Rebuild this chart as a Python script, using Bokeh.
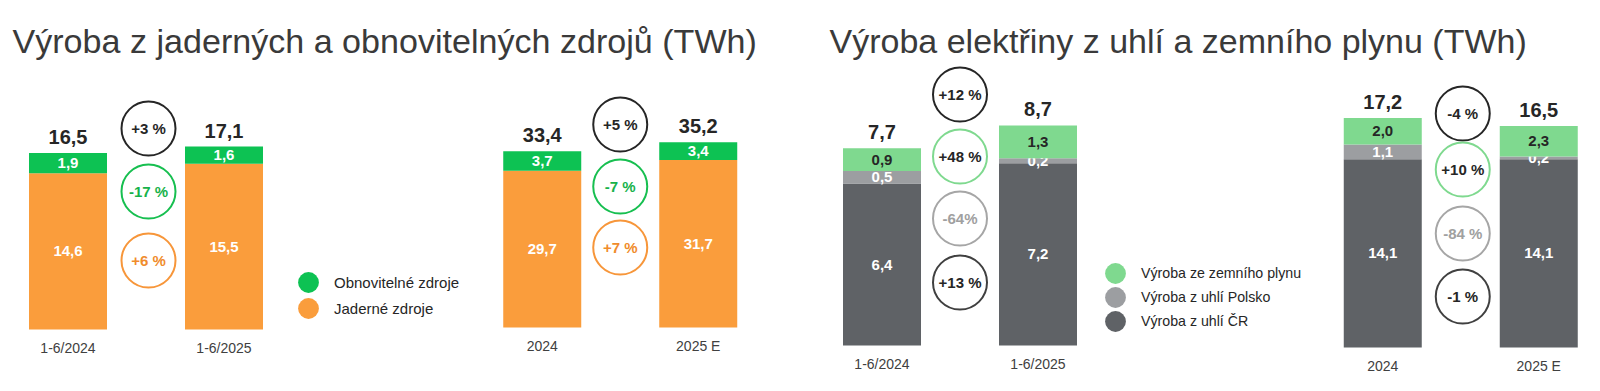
import numpy as np
from bokeh.plotting import figure
from bokeh.layouts import row
from bokeh.models import Range1d, Label, Legend, LegendItem
from bokeh.core.properties import value
from bokeh.embed import file_html
from bokeh.resources import INLINE

FONT = "Liberation Sans"

# ---------------- data ----------------
title_left = "Výroba z jaderných a obnovitelných zdrojů (TWh)"
title_right = "Výroba elektřiny z uhlí a zemního plynu (TWh)"

periods_half = ["1-6/2024", "1-6/2025"]
periods_year = ["2024", "2025 E"]

nuclear_half = [14.6, 15.5]
renew_half = [1.9, 1.6]
total_nr_half = [16.5, 17.1]
change_nr_half = ["+3 %", "-17 %", "+6 %"]

nuclear_year = [29.7, 31.7]
renew_year = [3.7, 3.4]
total_nr_year = [33.4, 35.2]
change_nr_year = ["+5 %", "-7 %", "+7 %"]

coal_cz_half = [6.4, 7.2]
coal_pl_half = [0.5, 0.2]
gas_half = [0.9, 1.3]
total_fossil_half = [7.7, 8.7]
change_fossil_half = ["+12 %", "+48 %", "-64%", "+13 %"]

coal_cz_year = [14.1, 14.1]
coal_pl_year = [1.1, 0.2]
gas_year = [2.0, 2.3]
total_fossil_year = [17.2, 16.5]
change_fossil_year = ["-4 %", "+10 %", "-84 %", "-1 %"]

legend_left = ["Obnovitelné zdroje", "Jaderné zdroje"]
legend_right = ["Výroba ze zemního plynu", "Výroba z uhlí Polsko", "Výroba z uhlí ČR"]

# ---------------- styles ----------------
ORANGE = "#FA9D3C"
GREEN = "#0DC253"
LGREEN = "#7FD98F"
LGRAY = "#9C9EA1"
DGRAY = "#5F6266"
DARK = "#262626"

H = 383
FRAME_H = H
PX_PER_SLOT = 156.0


def fmt(v):
    return f"{v:.1f}".replace(".", ",")


def panel(p, x0, periods, segments, colors, label_colors, totals, changes,
          ring_line, ring_text, ring_px, y_name, px_per_unit, ring_dx=0.0):
    xs = x0 + np.arange(len(periods), dtype=float)
    bottoms = np.zeros(len(periods))
    for vals, col, lc in zip(segments, colors, label_colors):
        vals = np.asarray(vals, dtype=float)
        tops = bottoms + vals
        p.vbar(x=xs, bottom=bottoms, top=tops, width=0.5, fill_color=col,
               line_color=None, y_range_name=y_name)
        p.text(x=xs, y=(bottoms + tops) / 2, text=[fmt(v) for v in vals],
               text_align="center", text_baseline="middle", text_color=lc,
               text_font=value(FONT), text_font_style="bold",
               text_font_size="15px", y_range_name=y_name)
        bottoms = tops
    # totals above bars
    p.text(x=xs, y=bottoms, text=[fmt(t) for t in totals], y_offset=-16,
           text_align="center", text_baseline="middle", text_color=DARK,
           text_font=value(FONT), text_font_style="bold", text_font_size="20px",
           y_range_name=y_name)
    # category labels below bars
    p.text(x=xs, y=np.zeros(len(periods)), text=periods, y_offset=18,
           text_align="center", text_baseline="middle", text_color="#404040",
           text_font=value(FONT), text_font_size="14px", y_range_name=y_name)
    # change rings
    xm = np.full(len(changes), xs.mean() + ring_dx / PX_PER_SLOT)
    ys = np.asarray(ring_px, dtype=float) / px_per_unit
    p.scatter(x=xm, y=ys, marker="circle", size=54, fill_color="white",
              line_color=ring_line, line_width=2, y_range_name=y_name)
    p.text(x=xm, y=ys, text=changes, text_align="center", text_baseline="middle",
           text_color=ring_text, text_font=value(FONT), text_font_style="bold",
           text_font_size="15px", y_range_name=y_name)


def make_fig(width, x_start, y1, y2):
    p = figure(width=width, height=H, title=None, toolbar_location=None,
               output_backend="svg",
               x_range=Range1d(x_start, x_start + width / PX_PER_SLOT),
               y_range=Range1d(*y1), x_axis_location=None, y_axis_location=None,
               min_border_left=0, min_border_right=0, min_border_top=0,
               min_border_bottom=0)
    p.extra_y_ranges = {"second": Range1d(*y2)}
    p.outline_line_color = None
    p.grid.visible = False
    p.background_fill_color = "white"
    p.border_fill_color = "white"
    return p


def yr(zero_above_bottom_px, px_per_unit):
    start = -zero_above_bottom_px / px_per_unit
    return (start, start + FRAME_H / px_per_unit)


def add_legend(p, labels, colors, x, y_bottoms, font_size):
    for lab, col, yb in zip(labels, colors, y_bottoms):
        r = p.scatter(x=np.array([np.nan]), y=np.array([np.nan]), marker="circle",
                      size=20, fill_color=col, line_color=None)
        lg = Legend(items=[LegendItem(label=lab, renderers=[r])], location=(x, yb),
                    orientation="vertical", glyph_width=52, glyph_height=52,
                    padding=0, margin=0, label_standoff=-3, border_line_color=None,
                    background_fill_alpha=0, label_text_font=FONT,
                    label_text_font_size=font_size, label_text_color=DARK)
        p.add_layout(lg)


# ---------------- left figure ----------------
S1, S2 = 10.7, 5.28
pl = make_fig(800, -67.5 / PX_PER_SLOT, yr(54, S1), yr(56, S2))
panel(pl, 0.0, periods_half, [nuclear_half, renew_half], [ORANGE, GREEN],
      ["white", "white"], total_nr_half, change_nr_half,
      [DARK, "#17BF50", "#F7963A"], [DARK, "#17B24B", "#F08C2C"],
      [201, 138, 69], "default", S1, ring_dx=2.5)
panel(pl, 3.04, periods_year, [nuclear_year, renew_year], [ORANGE, GREEN],
      ["white", "white"], total_nr_year, change_nr_year,
      [DARK, "#17BF50", "#F7963A"], [DARK, "#17B24B", "#F08C2C"],
      [203, 141, 80], "second", S2)
add_legend(pl, legend_left, [GREEN, ORANGE], 282, [38 + 37, 12 + 37], "15px")
pl.add_layout(Label(x=12, y=FRAME_H - 40, x_units="screen", y_units="screen",
                    text=title_left, text_font=FONT, text_font_size="34.1px",
                    text_color="#3a3a3a", text_baseline="alphabetic"))

# ---------------- right figure ----------------
S3, S4 = 25.3, 13.35
pr = make_fig(792, -81.5 / PX_PER_SLOT, yr(38, S3), yr(36, S4))
panel(pr, 0.0, periods_half, [coal_cz_half, coal_pl_half, gas_half],
      [DGRAY, LGRAY, LGREEN], ["white", "white", DARK], total_fossil_half,
      change_fossil_half, [DARK, LGREEN, "#A6A6A6", "#404040"],
      [DARK, DARK, "#A0A0A0", DARK], [251, 189, 127, 63], "default", S3)
panel(pr, 3.21, periods_year, [coal_cz_year, coal_pl_year, gas_year],
      [DGRAY, LGRAY, LGREEN], ["white", "white", DARK], total_fossil_year,
      change_fossil_year, [DARK, LGREEN, "#A6A6A6", "#404040"],
      [DARK, DARK, "#A0A0A0", DARK], [234, 178, 114, 51], "second", S4,
      ring_dx=2.0)
add_legend(pr, legend_right, [LGREEN, LGRAY, DGRAY], 289,
           [47 + 37, 23 + 37, -1 + 37], "14.2px")
pr.add_layout(Label(x=29, y=FRAME_H - 40, x_units="screen", y_units="screen",
                    text=title_right, text_font=FONT, text_font_size="34px",
                    text_color="#3a3a3a", text_baseline="alphabetic"))

layout = row(pl, pr)
open("out.html", "w").write(file_html(layout, INLINE))
